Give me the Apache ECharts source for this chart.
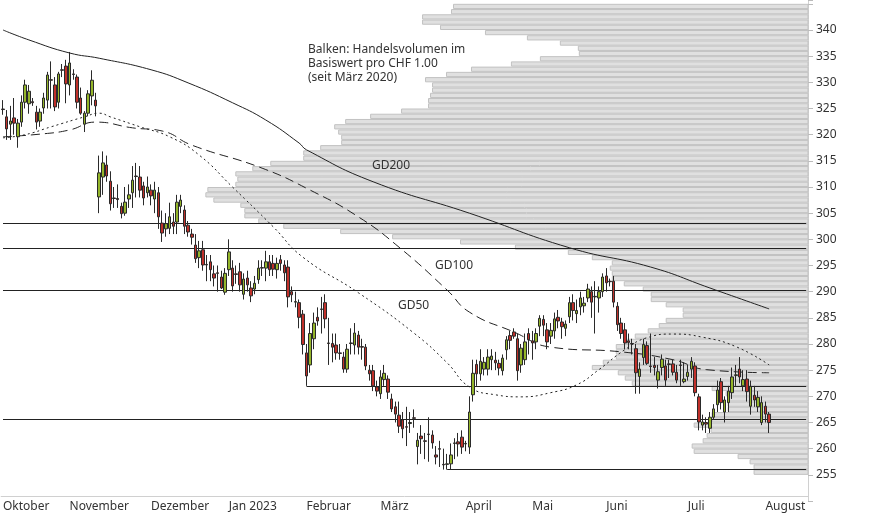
<!DOCTYPE html>
<html><head><meta charset="utf-8">
<script src="https://cdn.jsdelivr.net/npm/echarts@6/dist/echarts.min.js"></script>
<style>html,body{margin:0;padding:0;background:#fff}#c{width:874px;height:515px}</style>
</head><body><div id="c"></div>
<script>
// ---- data ----
const holidays = ['2022-12-26','2023-01-02','2023-04-07','2023-04-10','2023-05-01','2023-05-18','2023-05-29','2023-08-01'];
const monthNames = ['Jan 2023','Februar','März','April','Mai','Juni','Juli','August','September','Oktober','November','Dezember'];
// [open, close, low, high]
const candles = [
[324.9,324.8,323.8,326.6],[323.4,321.1,319.0,324.7],[322.0,322.6,319.0,325.5],[323.2,322.2,320.0,327.0],
[319.6,322.2,317.5,323.0],[322.4,326.2,321.5,327.5],[326.2,329.5,325.0,330.5],[325.9,328.3,324.0,329.5],
[326.3,326.1,325.5,327.0],[324.3,322.4,321.0,325.5],[322.6,324.3,321.5,325.0],[325.1,327.0,324.0,328.0],
[326.6,331.4,325.0,332.0],[330.5,330.4,325.0,334.0],[329.5,325.3,324.5,331.0],[326.2,331.6,325.0,332.0],
[332.4,332.3,331.0,333.5],[333.1,329.7,326.0,334.3],[329.5,333.7,327.5,335.8],[331.6,331.5,330.5,332.5],
[331.0,326.2,325.0,331.5],[327.0,324.1,323.8,329.0],[322.0,324.1,320.5,324.5],[324.1,327.8,323.5,328.5],
[327.4,330.4,325.6,332.3],[326.6,325.5,323.5,328.0],
[308.1,312.7,305.0,316.0],[311.9,314.6,308.5,316.8],[314.2,312.1,311.0,316.0],[311.1,306.8,305.5,313.0],
[307.9,307.8,306.0,310.0],[307.8,307.6,306.0,310.5],[306.3,304.9,304.0,307.0],[305.0,307.1,304.5,310.0],
[307.7,308.5,306.0,310.5],[308.9,311.3,306.0,314.0],[312.1,312.0,308.0,314.6],[311.9,309.4,308.0,314.0],
[310.2,307.9,306.5,311.0],[308.9,310.0,308.0,312.0],[309.4,308.3,306.5,310.5],[307.7,309.4,305.0,311.0],
[308.9,304.3,302.0,310.0],
[303.1,301.2,299.5,305.5],[302.0,303.0,300.5,305.0],[302.1,304.3,301.0,307.0],[303.3,302.5,301.0,305.0],
[303.3,307.1,301.0,308.5],[306.3,307.5,305.0,308.5],[305.6,302.5,301.0,306.5],[302.7,301.4,300.5,303.5],
[301.0,300.4,299.0,302.0],[298.9,296.3,295.5,301.0],[296.5,297.8,294.5,299.7],[298.0,295.1,294.0,299.7],
[295.2,295.1,292.0,297.0],[295.7,294.2,292.0,297.0],[293.4,292.6,291.0,295.0],[293.6,293.5,290.0,295.0],
[292.8,290.7,290.5,294.0],[289.9,293.5,289.4,294.5],[294.2,297.6,293.0,300.0],[294.5,291.1,290.0,296.0],
[293.4,293.3,291.5,295.0],[293.8,291.3,290.0,295.5],[289.5,292.4,288.5,293.5],[292.6,291.3,290.0,294.0],
[290.7,289.2,288.0,292.0],[290.5,291.6,289.5,293.0],[292.3,294.5,291.5,296.0],[294.6,294.5,293.0,296.0],
[294.5,295.7,292.0,297.8],[295.7,294.2,293.0,297.0],[295.4,294.3,293.0,297.0],[294.2,295.4,292.5,296.5],
[296.1,295.4,294.0,297.0],[295.1,293.6,292.0,296.0],[294.7,289.0,287.0,296.0],[290.0,289.4,288.0,291.0],
[288.0,288.1,287.0,290.0],[287.9,285.1,283.0,288.5],[285.7,279.9,278.0,286.5],[278.3,273.9,272.0,280.0],
[276.0,282.0,274.5,284.0],[281.0,284.0,279.0,286.0],[285.1,284.4,283.5,287.0],[286.7,286.6,282.0,289.0],
[287.9,284.8,283.0,289.5],[280.2,280.1,276.0,285.0],[280.1,279.4,276.5,282.0],[279.8,278.3,277.0,282.0],
[278.3,278.2,277.0,280.0],[277.5,275.2,274.5,278.5],[275.2,279.0,274.5,280.0],[280.2,280.1,278.0,283.0],
[279.8,282.1,278.0,284.0],[281.7,279.4,278.0,282.5],[279.5,279.4,277.0,281.0],[279.4,275.8,275.0,280.0],
[275.0,274.3,273.0,276.0],[274.9,272.0,271.0,276.0],[271.8,271.0,270.0,273.0],[270.5,273.7,269.5,275.0],
[273.2,274.4,272.0,276.0],[273.3,270.8,269.5,274.0],[269.5,267.6,267.0,270.5],[268.0,266.6,265.0,269.0],
[266.4,264.3,263.0,269.0],[265.5,263.8,262.0,267.0],[264.2,264.1,260.5,268.0],[264.8,265.0,263.0,267.0],
[265.9,265.8,264.0,267.5],[260.4,261.6,257.0,263.0],[262.4,261.9,259.0,264.5],[261.5,261.4,258.0,263.0],
[262.8,262.7,257.5,266.0],[262.6,261.1,260.0,263.5],[258.8,258.4,257.0,260.5],[260.0,259.9,256.5,261.5],
[257.0,256.9,256.0,260.0],[257.0,257.1,256.0,259.0],[257.1,258.8,256.0,261.0],[261.0,261.1,258.0,262.0],
[261.3,260.9,258.5,263.0],[262.2,260.3,259.0,263.5],[260.9,261.0,259.5,261.5],[260.3,267.0,259.0,270.0],
[270.3,274.4,269.0,277.0],[276.1,274.3,272.0,277.0],[274.3,276.7,273.0,279.0],[275.2,276.5,274.0,277.5],
[275.2,277.5,274.0,279.0],[277.0,277.7,275.0,279.0],[276.9,276.4,275.0,278.5],[276.3,275.4,274.0,277.0],
[274.9,277.3,274.0,278.0],[278.9,280.8,277.0,281.5],[281.6,280.7,279.0,282.5],[282.3,281.5,281.0,283.0],
[281.0,274.9,273.0,282.0],[276.0,279.2,274.5,280.0],[277.0,280.4,276.0,282.0],[282.0,280.8,278.0,283.0],
[280.6,280.2,277.0,282.5],[280.4,282.0,279.0,283.0],[283.4,284.9,281.5,285.5],[284.7,283.6,281.5,285.5],
[282.7,280.4,279.0,284.0],[281.5,282.6,280.0,284.0],[282.5,284.8,281.0,286.0],[285.1,284.4,283.0,286.5],
[284.2,283.3,281.0,285.0],[283.0,283.8,281.5,284.5],[285.2,287.9,284.0,289.0],[287.9,286.4,284.5,289.5],
[285.8,286.4,284.0,288.5],[287.1,288.8,285.5,290.0],[287.3,287.8,286.0,289.0],[288.8,290.5,288.0,291.5],
[290.0,288.0,285.0,291.0],[289.0,289.1,282.0,292.0],[288.8,290.0,286.0,291.0],[290.0,292.8,289.0,293.5],
[293.0,291.7,290.0,294.5],[292.0,291.9,291.0,292.5],[292.0,288.0,287.0,293.0],[287.2,283.7,282.5,288.0],
[284.0,282.0,281.0,285.0],
[282.7,280.2,279.0,284.0],[280.6,280.3,279.0,282.0],[280.1,280.0,278.0,281.0],[279.1,274.5,270.5,280.0],
[273.8,275.2,270.5,276.5],[277.4,279.9,276.0,281.0],[279.7,276.3,276.0,280.5],[275.8,275.7,274.5,282.0],
[275.9,275.5,274.0,277.5],[273.1,274.7,271.5,276.0],[275.5,277.1,274.0,278.0],[275.8,273.1,272.0,277.0],
[276.2,276.1,273.5,277.0],[276.2,274.6,274.0,277.0],[274.6,273.1,272.5,276.0],[276.0,275.9,272.0,277.0],
[272.8,273.3,272.5,276.5],[273.8,274.6,273.0,276.0],[275.2,276.7,273.5,277.5],[275.8,270.7,270.0,276.5],
[269.9,265.1,263.5,270.5],[264.5,265.1,263.5,266.5],[265.0,264.7,263.0,266.0],[263.9,266.0,263.0,267.0],
[266.0,267.6,265.5,268.5],[268.4,271.2,267.0,273.0],[272.8,268.8,267.5,273.5],[267.0,269.3,265.0,270.0],
[268.8,271.0,267.0,272.0],[270.7,273.7,269.5,275.5],[274.0,274.1,272.0,276.0],[275.2,273.7,272.5,277.5],
[272.0,273.2,271.0,275.0],[273.3,270.9,269.0,275.0],[268.1,271.9,266.5,273.0],[270.2,269.3,268.0,272.0],
[268.0,269.8,267.0,271.0],[265.0,268.8,264.5,270.0],[268.1,266.6,265.0,269.0],[266.6,265.0,263.0,267.0]
];
// volume profile: bin lower bound (CHF) and volume (relative units)
const volPrices = [];
for (let p = 344; p >= 255; p--) volPrices.push(p);
const volValues = [355,357,386,386,368,323,281,248,230,229,268,297,337,362,383,376,376,378,380,380,
407,438,463,474,470,467,467,488,505,505,538,556,573,571,573,601,603,595,568,564,564,550,525,468,416,
348,293,240,216,196,198,196,196,184,165,157,157,142,125,125,142,149,160,173,183,192,192,192,205,216,
190,183,176,96,82,80,80,80,96,96,114,97,101,105,116,114,70,58,54,54];
// moving averages: [trading-day index, value]
const gd200 = [[0,340.0],[7,338.1],[18,335.6],[26,334.6],[40,332.4],[50,329.9],[62,326.1],[71,322.8],[80,318.4],[82,317.1],[100,311.0],[126,305.0],[153,298.4],[175,294.7],[191,290.7],[207,286.7]];
const gd100 = [[0,319.6],[10,320.1],[18,320.9],[25,322.4],[35,321.3],[43,320.7],[51,318.0],[70,313.6],[83,309.4],[96,304.3],[107,298.5],[120,290.3],[126,286.1],[138,282.3],[148,279.4],[167,278.5],[181,277.0],[190,275.1],[207,274.5]];
const gd50 = [[0,319.4],[6,320.0],[13,321.5],[22,323.4],[26,324.1],[29,323.4],[37,321.5],[45,319.6],[53,316.1],[62,310.0],[73,302.4],[81,296.6],[96,289.8],[111,282.1],[120,276.4],[126,271.8],[133,270.3],[140,269.9],[148,270.7],[155,272.2],[161,275.1],[168,278.9],[174,281.2],[181,281.9],[189,281.3],[198,279.5],[207,276.0]];
// horizontal support/resistance levels: [value, start day index]
const levels = [[303.0,0],[298.2,0],[290.3,0],[265.7,0],[272.0,82],[256.0,120]];
const yTicks = {min:250, max:345.73, step:5, firstLabel:255, lastLabel:340};

// ---- build ----
const dates = [];
let d = new Date(Date.UTC(2022,9,6));
while (dates.length < 218) {
  const dow = d.getUTCDay(); const s = d.toISOString().slice(0,10);
  if (dow !== 0 && dow !== 6 && !holidays.includes(s)) dates.push(s);
  d.setUTCDate(d.getUTCDate()+1);
}
const isMonthStart = i => i === 0 || dates[i].slice(5,7) !== dates[i-1].slice(5,7);
const monthLabel = s => monthNames[(+s.slice(5,7)) - 1];
const last = dates.length - 1;
const font = '"Noto Sans", "Open Sans", sans-serif';

const chart = echarts.init(document.getElementById('c'));
chart.setOption({
  animation: false,
  grid: {left: 0, right: 66, top: 0, bottom: 14},
  xAxis: [{
    type: 'category', data: dates, boundaryGap: true, offset: -5,
    axisLine: {lineStyle: {color: '#d0d0d0'}},
    axisTick: {interval: (i) => isMonthStart(i), length: 22, lineStyle: {color: '#d0d0d0'}},
    axisLabel: {interval: (i) => isMonthStart(i), formatter: (v) => monthLabel(v), align: 'left',
      color: '#333', fontSize: 12, fontFamily: font, margin: 5},
    splitLine: {show: false}
  }, {
    type: 'value', inverse: true, min: 0, max: 808, show: false, gridIndex: 0
  }],
  yAxis: [{
    type: 'value', position: 'right', min: yTicks.min, max: yTicks.max, interval: yTicks.step,
    axisLine: {show: true, lineStyle: {color: '#d0d0d0'}},
    axisTick: {show: true, length: 5, lineStyle: {color: '#bbb'}},
    axisLabel: {formatter: v => (v < yTicks.firstLabel || v > yTicks.lastLabel) ? '' : v,
      color: '#333', fontSize: 12, fontFamily: font, margin: 8},
    splitLine: {show: false}
  }],
  series: [{
    type: 'custom', xAxisIndex: 1, yAxisIndex: 0, z: 1, clip: false,
    data: volPrices.map((p, i) => [volValues[i], p]),
    encode: {x: 0, y: 1},
    renderItem: (params, api) => {
      const v = api.value(0), p = api.value(1);
      const a = api.coord([v, p + 1]); const b = api.coord([0, p]);
      return {type: 'rect', shape: {x: a[0], y: a[1] + 0.5, width: b[0] - a[0], height: b[1] - a[1] - 1},
        style: {fill: '#e0e0e0', stroke: '#c2c2c2', lineWidth: 1}};
    }
  }, {
    type: 'candlestick', data: candles.map(c => [c[0], c[1], c[2], c[3]]), barWidth: 3, z: 5,
    itemStyle: {color: '#94b52a', color0: '#c0302a', borderColor: '#2a2a2a', borderColor0: '#2a2a2a', borderWidth: 1},
    markLine: {silent: true, symbol: 'none', label: {show: false}, animation: false,
      lineStyle: {color: '#222', width: 1.2, type: 'solid'},
      data: levels.map(l => [{coord: [l[1], l[0]]}, {coord: [last, l[0]]}])}
  }, {
    type: 'line', data: gd200, symbol: 'none', smooth: true, z: 4,
    lineStyle: {color: '#222', width: 1}
  }, {
    type: 'line', data: gd100, symbol: 'none', smooth: true, z: 4,
    lineStyle: {color: '#222', width: 1, type: [9, 5]}
  }, {
    type: 'line', data: gd50, symbol: 'none', smooth: true, z: 4,
    lineStyle: {color: '#222', width: 1, type: [2, 3]}
  }],
  graphic: [
    {type: 'text', left: 308, top: 43, z: 10, style: {text: 'Balken: Handelsvolumen im\nBasiswert pro CHF 1.00\n(seit März 2020)',
      fill: '#333', font: '12px ' + font, lineHeight: 14}},
    {type: 'text', left: 372, top: 160, z: 10, style: {text: 'GD200', fill: '#333', font: '12px ' + font}},
    {type: 'text', left: 435, top: 260, z: 10, style: {text: 'GD100', fill: '#333', font: '12px ' + font}},
    {type: 'text', left: 398, top: 300, z: 10, style: {text: 'GD50', fill: '#333', font: '12px ' + font}}
  ]
});
</script></body></html>
